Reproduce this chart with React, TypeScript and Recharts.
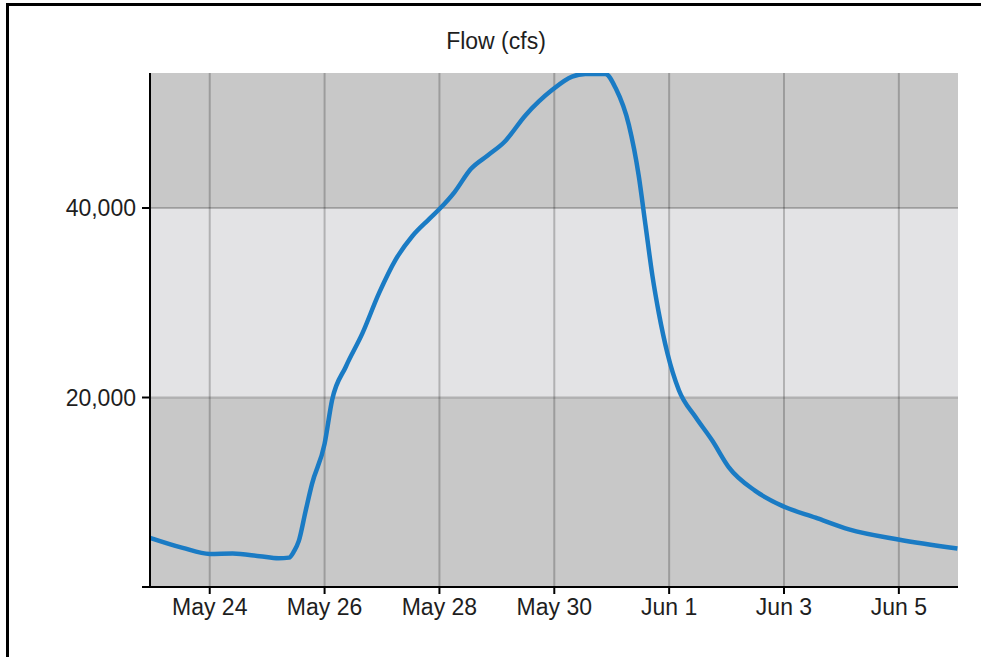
import React from "react";
import {
  LineChart,
  Line,
  XAxis,
  YAxis,
  ReferenceArea,
  ReferenceLine,
} from "recharts";

// day = day of May (Jun 1 = 32), flow in cfs
const days = [
  22.96, 23.53, 24.0, 24.4, 24.87, 25.2, 25.38, 25.47, 25.55, 25.67, 25.78,
  26.0, 26.13, 26.37, 26.66, 26.95, 27.24, 27.53, 27.82, 28.0, 28.26, 28.55,
  28.84, 29.13, 29.5, 29.96, 30.31, 30.54, 30.89, 31.07, 31.3, 31.47, 31.59,
  31.71, 31.82, 31.97, 32.17, 32.46, 32.75, 33.04, 33.5, 33.97, 34.55, 35.13,
  35.99, 37.02,
];
const flow = [
  5190, 4130, 3490, 3530, 3250, 3030, 3100, 3800, 4840, 8030, 10860, 15110,
  19710, 23250, 26790, 31040, 34580, 37050, 38830, 39890, 41660, 44140, 45550,
  46970, 49800, 52450, 53870, 54150, 54150, 52630, 48730, 43420, 38110, 32800,
  28920, 24670, 20770, 17940, 15460, 12630, 10150, 8560, 7320, 6090, 5020,
  4070,
];

const xTicks = [24, 26, 28, 30, 32, 34, 36];
const xTickLabels = ["May 24", "May 26", "May 28", "May 30", "Jun 1", "Jun 3", "Jun 5"];
const yTicks = [0, 20000, 40000];
const xDomain = [22.96, 37.03];
const yDomain = [0, 54250];
// background bands [from, to, colour]
const bands: [number, number, string][] = [
  [0, 20000, "#c8c8c8"],
  [20000, 40000, "#e3e3e5"],
  [40000, 54250, "#c8c8c8"],
];

const data = days.map((d, i) => ({ day: d, flow: flow[i] }));

const font = '"Liberation Sans", Arial, sans-serif';

export default function App() {
  return (
    <div
      style={{
        position: "absolute",
        left: 0,
        top: 0,
        width: 981,
        height: 657,
        background: "#fff",
        overflow: "hidden",
        fontFamily: font,
      }}
    >
      <div
        style={{
          position: "absolute",
          left: 6,
          top: 3,
          right: 0,
          bottom: 0,
          borderTop: "3px solid #000",
          borderLeft: "3px solid #000",
        }}
      />
      <div
        style={{
          position: "absolute",
          left: 0,
          top: 30,
          width: 992,
          textAlign: "center",
          fontSize: 23,
          lineHeight: "23px",
          color: "#1e1e1e",
        }}
      >
        Flow (cfs)
      </div>
      <div style={{ position: "absolute", left: 0, top: 0 }}>
        <LineChart
          width={981}
          height={657}
          data={data}
          margin={{ top: 73, right: 23, bottom: 30, left: 0 }}
        >
          {bands.map(([a, b, c]) => (
            <ReferenceArea
              key={a}
              y1={a}
              y2={b}
              fill={c}
              fillOpacity={1}
              stroke="none"
              ifOverflow="visible"
            />
          ))}
          {xTicks.map((t) => (
            <ReferenceLine key={"x" + t} x={t} stroke="#000" strokeOpacity={0.22} strokeWidth={2} />
          ))}
          {yTicks.slice(1).map((t) => (
            <ReferenceLine key={"y" + t} y={t} stroke="#000" strokeOpacity={0.22} strokeWidth={2} />
          ))}
          <XAxis
            dataKey="day"
            type="number"
            domain={xDomain}
            allowDataOverflow
            ticks={xTicks}
            tickFormatter={(v) => xTickLabels[xTicks.indexOf(v)] ?? ""}
            height={40}
            tickSize={7}
            tickMargin={5}
            axisLine={{ stroke: "#000", strokeWidth: 2 }}
            tickLine={{ stroke: "#000", strokeWidth: 2 }}
            tick={{ fill: "#1e1e1e", fontSize: 23, fontFamily: font }}
            interval={0}
          />
          <YAxis
            type="number"
            domain={yDomain}
            allowDataOverflow
            ticks={yTicks}
            tickFormatter={(v) => (v === 0 ? "" : v.toLocaleString("en-US"))}
            width={150}
            tickSize={8}
            tickMargin={6}
            axisLine={{ stroke: "#000", strokeWidth: 2 }}
            tickLine={{ stroke: "#000", strokeWidth: 2 }}
            tick={{ fill: "#1e1e1e", fontSize: 23, fontFamily: font }}
            interval={0}
          />
          <Line
            type="monotone"
            dataKey="flow"
            stroke="#1a7bc4"
            strokeWidth={4.5}
            dot={false}
            isAnimationActive={false}
          />
        </LineChart>
      </div>
    </div>
  );
}
